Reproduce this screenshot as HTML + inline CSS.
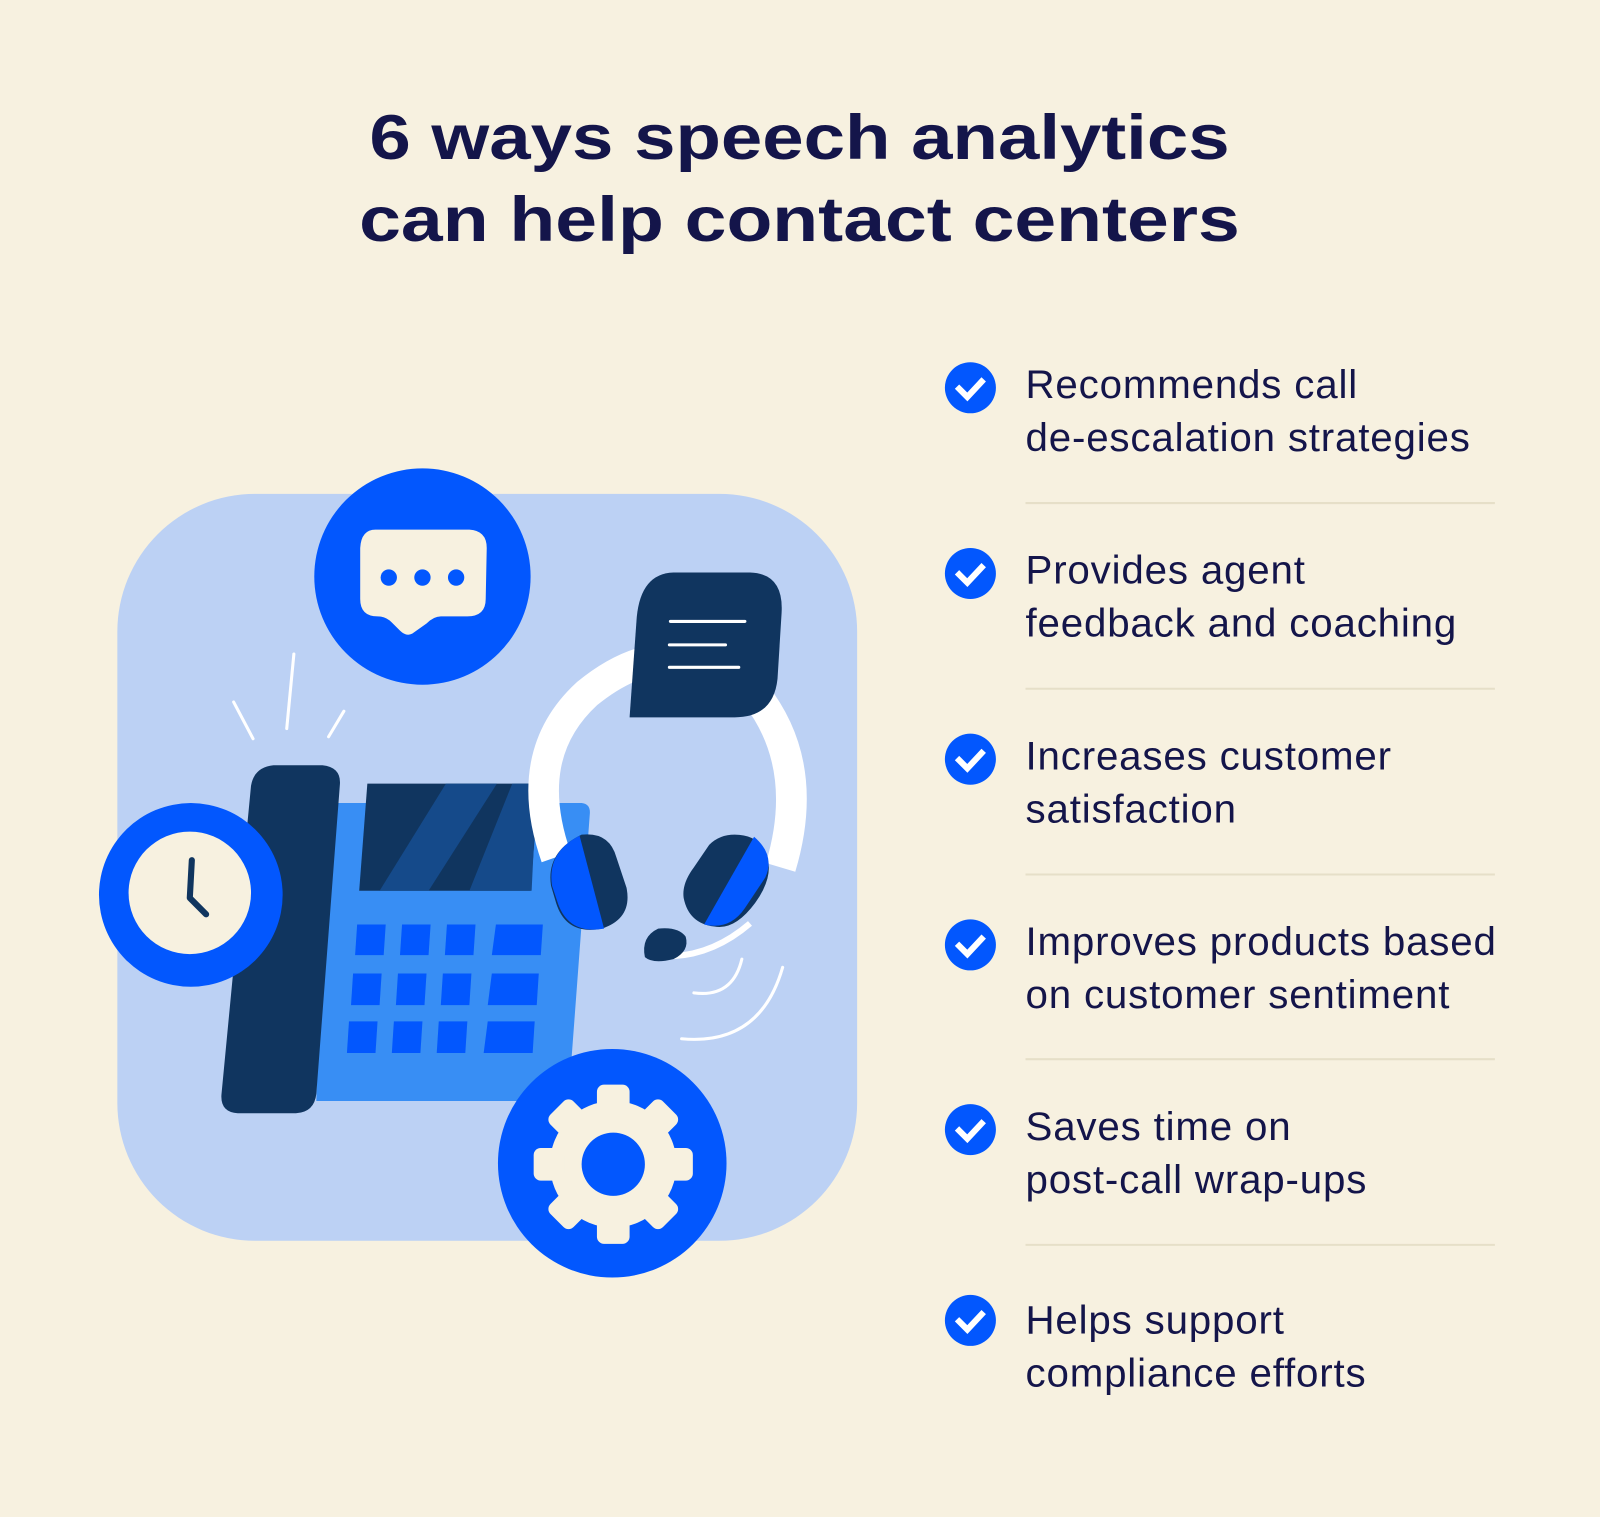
<!DOCTYPE html>
<html><head><meta charset="utf-8"><style>
html,body{margin:0;padding:0;background:#f7f1e0;}
body{width:1600px;height:1517px;overflow:hidden;position:relative;}
#w{position:absolute;left:0;top:0;width:1568px;height:1487px;transform:scale(1.0204);transform-origin:0 0;}
svg{position:absolute;left:0;top:0;}
</style></head><body><div id="w">
<svg width="1568" height="1487" viewBox="0 0 1568 1487" xmlns="http://www.w3.org/2000/svg">
<rect width="1568" height="1487" fill="#f7f1e0"/>
<text x="362" y="156" textLength="843" lengthAdjust="spacingAndGlyphs" font-family="Liberation Sans, sans-serif" font-weight="bold" font-size="62" fill="#14154a">6 ways speech analytics</text>
<text x="352" y="236" textLength="863" lengthAdjust="spacingAndGlyphs" font-family="Liberation Sans, sans-serif" font-weight="bold" font-size="62" fill="#14154a">can help contact centers</text>
<rect x="115" y="484" width="725" height="732" rx="135" fill="#bcd1f4"/>
<path d="M318 787 L570 787 Q579 788 578 798 L557 1079 L310 1079 Z" fill="#388ef4"/>
<path d="M360 768 L528 768 L520 873 L352 873 Z" fill="#10355f"/>
<path d="M437 768 L487 768 L420 873 L372 873 Z" fill="#154a8a"/>
<path d="M502 768 L526 768 L521 873 L460 873 Z" fill="#154a8a"/>
<g fill="#0257fe">
<path d="M350 906h28l-2 30h-28z"/><path d="M394 906h28l-2 30h-28z"/><path d="M438 906h28l-2 30h-28z"/><path d="M486 906h46l-2 30h-48z"/>
<path d="M346 954h28l-2 31h-28z"/><path d="M390 954h28l-2 31h-28z"/><path d="M434 954h28l-2 31h-28z"/><path d="M482 954h46l-2 31h-48z"/>
<path d="M342 1001h28l-2 31h-28z"/><path d="M386 1001h28l-2 31h-28z"/><path d="M430 1001h28l-2 31h-28z"/><path d="M478 1001h46l-2 31h-48z"/>
</g>
<path d="M268 750 L316 750 Q335 752 333 770 L310 1072 Q308 1090 290 1091 L233 1091 Q216 1090 217 1073 L246 770 Q249 752 268 750 Z" fill="#10355f"/>
<g stroke="#fff" stroke-width="3" stroke-linecap="round">
<line x1="229" y1="688" x2="248" y2="724"/><line x1="288" y1="641" x2="281" y2="714"/><line x1="337" y1="697" x2="322" y2="722"/>
</g>
<circle cx="187" cy="877" r="90" fill="#0257fe"/>
<circle cx="186" cy="875" r="60" fill="#f7f1e0"/>
<path d="M188 843 L186 880 L202 896" stroke="#10355f" stroke-width="6" fill="none" stroke-linecap="round" stroke-linejoin="round"/>
<circle cx="414" cy="565" r="106" fill="#0257fe"/>
<path d="M368 519 L460 519 Q477 520 477 537 L476 587 Q476 604 458 604 L432 604 Q425 604 418 611 L404 621 Q398 624 392 618 L384 610 Q378 604 370 604 Q353 604 353 587 L353 537 Q354 519 368 519 Z" fill="#f7f1e0"/>
<g fill="#0257fe"><circle cx="381" cy="566" r="8"/><circle cx="414" cy="566" r="8"/><circle cx="447" cy="566" r="8"/></g>
<path d="M545 840 Q510 740 575 680 Q660 610 740 680 Q795 750 765 850" stroke="#fff" stroke-width="30" fill="none"/>
<path d="M660 561 L735 561 Q768 562 766 600 L762 665 Q758 703 720 703 L617 703 L624 605 Q628 562 660 561 Z" fill="#10355f"/>
<g stroke="#fff" stroke-width="3" stroke-linecap="round"><line x1="657" y1="609" x2="730" y2="609"/><line x1="656" y1="632" x2="711" y2="632"/><line x1="656" y1="654" x2="724" y2="654"/></g>
<g>
<path d="M570 818 Q597 815 604 840 L614 870 Q620 900 590 910 Q555 917 545 885 L540 868 Q535 835 570 818 Z" fill="#10355f"/>
<path d="M568 819 L592 910 Q558 916 547 886 L541 868 Q536 835 568 819 Z" fill="#0257fe"/>
<path d="M720 818 Q745 818 752 840 Q758 860 740 885 Q720 912 700 908 Q675 905 670 880 Q668 866 680 850 L695 828 Q705 818 720 818 Z" fill="#10355f"/>
<path d="M739 820 Q760 838 750 860 L730 890 Q715 912 690 906 Z" fill="#0257fe"/>
</g>
<path d="M660 937 Q700 935 735 905" stroke="#fff" stroke-width="6" fill="none"/>
<path d="M645 910 Q665 908 672 918 Q676 932 660 940 Q640 945 632 938 Q628 918 645 910 Z" fill="#10355f"/>
<g stroke="#fff" stroke-width="3" fill="none" stroke-linecap="round">
<path d="M680 973 Q718 978 727 940"/><path d="M668 1018 Q745 1025 767 948"/>
</g>
<circle cx="600" cy="1140" r="112" fill="#0257fe"/>
<g transform="translate(601,1141)" fill="#f7f1e0">
<circle r="62"/>
<g id="t"><rect x="-16" y="-78" width="32" height="30" rx="7"/></g>
<use href="#t" transform="rotate(45)"/><use href="#t" transform="rotate(90)"/><use href="#t" transform="rotate(135)"/>
<use href="#t" transform="rotate(180)"/><use href="#t" transform="rotate(225)"/><use href="#t" transform="rotate(270)"/><use href="#t" transform="rotate(315)"/>
<circle r="31" fill="#0257fe"/>
</g>
<g stroke="#e6dfc8" stroke-width="2"><line x1="1005" y1="493" x2="1465" y2="493"/><line x1="1005" y1="675" x2="1465" y2="675"/><line x1="1005" y1="857" x2="1465" y2="857"/><line x1="1005" y1="1038" x2="1465" y2="1038"/><line x1="1005" y1="1220" x2="1465" y2="1220"/></g>
<g id="c"><circle cx="951" cy="380" r="25" fill="#0257fe"/><path d="M940 381 L948 389 L962 374" stroke="#fff" stroke-width="6" fill="none" stroke-linecap="square"/></g>
<use href="#c" y="182"/><use href="#c" y="364"/><use href="#c" y="546"/><use href="#c" y="727"/><use href="#c" y="914"/>
<g font-family="Liberation Sans, sans-serif" font-size="39.5" letter-spacing="0.8" fill="#14154a">
<text x="1005" y="390">Recommends call</text><text x="1005" y="442">de-escalation strategies</text>
<text x="1005" y="572">Provides agent</text><text x="1005" y="624">feedback and coaching</text>
<text x="1005" y="754">Increases customer</text><text x="1005" y="806">satisfaction</text>
<text x="1005" y="936">Improves products based</text><text x="1005" y="988">on customer sentiment</text>
<text x="1005" y="1117">Saves time on</text><text x="1005" y="1169">post-call wrap-ups</text>
<text x="1005" y="1307">Helps support</text><text x="1005" y="1359">compliance efforts</text>
</g>
</svg>
</div></body></html>
